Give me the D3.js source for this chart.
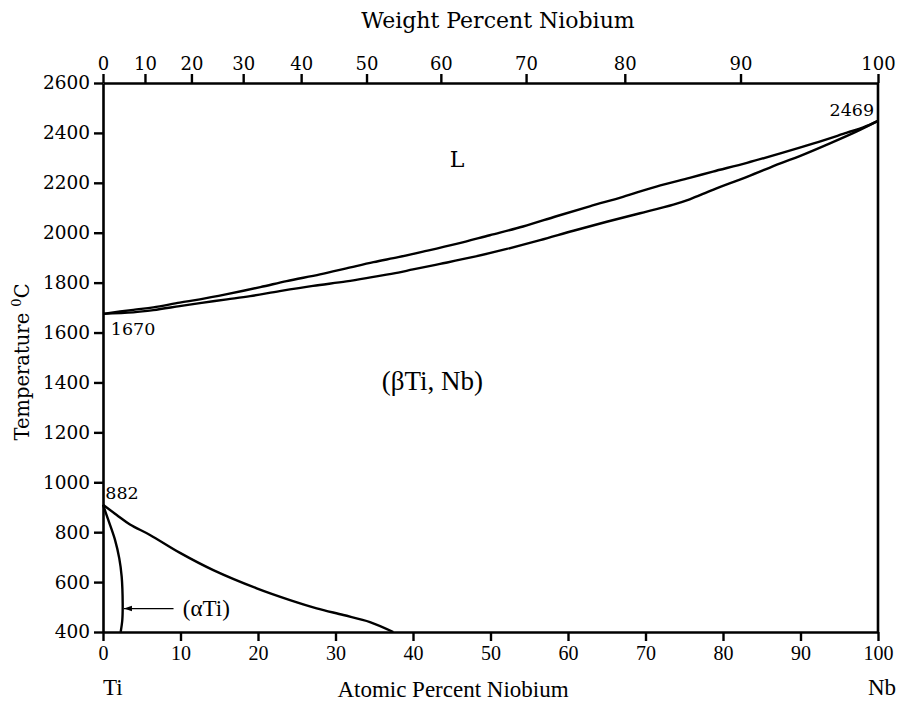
<!DOCTYPE html>
<html lang="en">
<head>
<meta charset="UTF-8">
<title>Ti-Nb phase diagram</title>
<script src="https://d3js.org/d3.v7.min.js"></script>
<style>
  body { margin: 0; background: #fff; }
  .serif { font-family: "DejaVu Serif", serif; }
  .times { font-family: "Liberation Serif", serif; }
</style>
</head>
<body>
<svg id="chart" width="903" height="706"></svg>
<script>
// atomic % Nb ticks (bottom) and weight % Nb ticks (top)
const atomicTicks = [0, 10, 20, 30, 40, 50, 60, 70, 80, 90, 100];
const weightTicks = [0, 10, 20, 30, 40, 50, 60, 70, 80, 90, 100];
const tempTicks = [400, 600, 800, 1000, 1200, 1400, 1600, 1800, 2000, 2200, 2400, 2600];

// liquidus: [at% Nb, temperature]
const liquidus = [
  [0, 1675], [3.9, 1691], [6.5, 1701], [9.9, 1720], [12.5, 1733], [16, 1754],
  [20.3, 1782], [23.7, 1806], [28, 1833], [31.4, 1857], [34.9, 1882], [38.1, 1902],
  [41.3, 1924], [45.6, 1955], [49.9, 1990], [54.2, 2025], [58.5, 2066], [62.8, 2106],
  [67.1, 2144], [71.4, 2185], [75.7, 2220], [78.7, 2245], [83.1, 2280], [87.4, 2318],
  [91.7, 2358], [96, 2401], [98.1, 2422], [100, 2448]
];
// solidus
const solidus = [
  [0, 1675], [3.9, 1681], [6.5, 1690], [9.9, 1706], [12.5, 1718], [16, 1733],
  [19, 1746], [22.8, 1766], [27.1, 1787], [31.4, 1805], [34.9, 1823], [38.1, 1840],
  [40, 1853], [43.5, 1875], [47.8, 1903], [52.1, 1935], [56.4, 1970], [60.7, 2008],
  [65, 2044], [69.3, 2078], [73.6, 2113], [75.7, 2134], [78.7, 2172], [83.1, 2224],
  [87.4, 2278], [89.9, 2307], [93.8, 2358], [97.2, 2405], [100, 2448]
];
// beta transus (beta / alpha+beta boundary)
const transus = [
  [0, 910], [1.77, 869], [3.48, 831], [6.06, 789], [9.94, 717], [14.23, 648],
  [19.83, 575], [24.13, 528], [27.57, 495], [31.01, 468], [34.45, 440], [37.46, 400]
];
// alpha solvus
const solvus = [
  [0, 910], [0.68, 849], [1.55, 769], [2.1, 695], [2.41, 622], [2.54, 515],
  [2.49, 448], [2.28, 400]
];

const svg = d3.select("#chart");
const plotLeft = 103, plotRight = 878, plotTop = 83, plotBottom = 632;

const x = d3.scaleLinear().domain([0, 100]).range([plotLeft, plotRight]);
const y = d3.scaleLinear().domain([400, 2600]).range([plotBottom, plotTop]);

// weight % -> atomic % (Nb 92.906, Ti 47.867)
function wtToAt(w) {
  const nb = w / 92.906, ti = (100 - w) / 47.867;
  return 100 * nb / (nb + ti);
}

function styleAxis(g) {
  g.select(".domain").attr("stroke", "#000").attr("stroke-width", 2.6);
  g.selectAll(".tick line").attr("stroke", "#000").attr("stroke-width", 2.4);
}

// bottom axis
svg.append("g")
  .attr("transform", `translate(0,${plotBottom})`)
  .call(d3.axisBottom(x).tickValues(atomicTicks).tickSize(9).tickSizeOuter(0).tickPadding(5))
  .call(styleAxis)
  .call(g => g.selectAll(".tick text").attr("class", "times").attr("font-size", 20).attr("fill", "#000"));

// top axis (weight %)
svg.append("g")
  .attr("transform", `translate(0,${plotTop})`)
  .call(d3.axisTop(x).tickValues(weightTicks.map(wtToAt)).tickFormat((d, i) => weightTicks[i])
    .tickSize(9).tickSizeOuter(0).tickPadding(4))
  .call(styleAxis)
  .call(g => g.selectAll(".tick text").attr("class", "serif").attr("font-size", 18).attr("fill", "#000"));

// left axis
svg.append("g")
  .attr("transform", `translate(${plotLeft},0)`)
  .call(d3.axisLeft(y).tickValues(tempTicks).tickFormat(d3.format("d"))
    .tickSize(9).tickSizeOuter(0).tickPadding(4))
  .call(styleAxis)
  .call(g => g.selectAll(".tick text").attr("class", "serif").attr("font-size", 18.5).attr("fill", "#000"));

// right frame
svg.append("line")
  .attr("x1", plotRight).attr("x2", plotRight).attr("y1", plotTop).attr("y2", plotBottom)
  .attr("stroke", "#000").attr("stroke-width", 2.6);

const line = d3.line()
  .x(d => x(d[0]))
  .y(d => y(d[1]))
  .curve(d3.curveCatmullRom);

[liquidus, solidus, transus, solvus].forEach(d => {
  svg.append("path")
    .datum(d)
    .attr("fill", "none")
    .attr("stroke", "#000")
    .attr("stroke-width", 2.4)
    .attr("stroke-linejoin", "round")
    .attr("d", line);
});

// arrow to (alphaTi)
svg.append("defs").append("marker")
  .attr("id", "head")
  .attr("viewBox", "0 0 10 10")
  .attr("refX", 10).attr("refY", 5)
  .attr("markerWidth", 10).attr("markerHeight", 8)
  .attr("markerUnits", "userSpaceOnUse")
  .attr("orient", "auto")
  .append("path").attr("d", "M0,1.5L10,5L0,8.5Z").attr("fill", "#000");

svg.append("line")
  .attr("x1", x(9.1)).attr("x2", x(2.7))
  .attr("y1", y(494)).attr("y2", y(494))
  .attr("stroke", "#000").attr("stroke-width", 1.2)
  .attr("marker-end", "url(#head)");

svg.append("text").attr("class", "times")
  .attr("x", x(10.3)).attr("y", y(494) + 7)
  .attr("font-size", 23).text("(αTi)");

// region labels
svg.append("text").attr("class", "serif")
  .attr("x", x(45.7)).attr("y", y(2262))
  .attr("text-anchor", "middle").attr("font-size", 22).text("L");

svg.append("text").attr("class", "times")
  .attr("x", x(42.5)).attr("y", y(1400) + 8)
  .attr("text-anchor", "middle").attr("font-size", 27).text("(βTi, Nb)");

// point labels
svg.append("text").attr("class", "serif")
  .attr("x", x(1)).attr("y", y(1675) + 21)
  .attr("font-size", 17.5).text("1670");

svg.append("text").attr("class", "serif")
  .attr("x", x(0.3)).attr("y", y(910) - 6)
  .attr("font-size", 17.5).text("882");

svg.append("text").attr("class", "serif")
  .attr("x", x(99.5)).attr("y", y(2448) - 5)
  .attr("text-anchor", "end").attr("font-size", 17.5).text("2469");

// axis titles
svg.append("text").attr("class", "serif")
  .attr("x", 498).attr("y", 28)
  .attr("text-anchor", "middle").attr("font-size", 22).text("Weight Percent Niobium");

svg.append("text").attr("class", "times")
  .attr("x", 453).attr("y", 697)
  .attr("text-anchor", "middle").attr("font-size", 23).text("Atomic Percent Niobium");

svg.append("text").attr("class", "times")
  .attr("x", plotLeft).attr("y", 695)
  .attr("font-size", 23).text("Ti");

svg.append("text").attr("class", "times")
  .attr("x", plotRight + 4).attr("y", 695)
  .attr("text-anchor", "middle").attr("font-size", 23).text("Nb");

const yt = svg.append("text").attr("class", "serif")
  .attr("transform", "translate(29,362) rotate(-90)")
  .attr("text-anchor", "middle").attr("font-size", 19.5);
yt.append("tspan").text("Temperature ");
yt.append("tspan").attr("font-size", 13).attr("dy", -8).text("0");
yt.append("tspan").attr("dy", 8).text("C");
</script>
</body>
</html>
